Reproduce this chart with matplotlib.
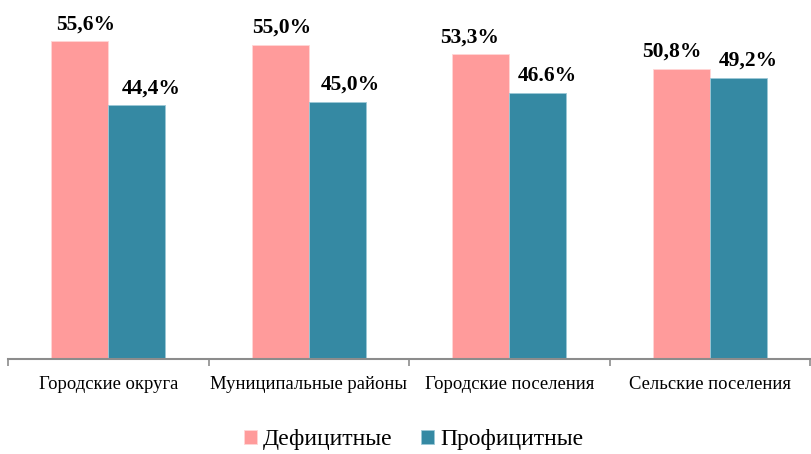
import matplotlib.pyplot as plt
import numpy as np

plt.rcParams['font.family'] = ['Liberation Serif', 'DejaVu Serif']

# данные
categories = ['Городские округа', 'Муниципальные районы', 'Городские поселения', 'Сельские поселения']
deficit = [55.6, 55.0, 53.3, 50.8]
surplus = [44.4, 45.0, 46.6, 49.2]
deficit_labels = ['55,6%', '55,0%', '53,3%', '50,8%']
surplus_labels = ['44,4%', '45,0%', '46.6%', '49,2%']
series_names = ['Дефицитные', 'Профицитные']

PINK = '#FF9B9B'
TEAL = '#3589A3'
BAR_W = 0.285
# сдвиги подписей (в пунктах), как в исходнике
deficit_dx = [4, 1, -8, -7]
surplus_dx = [10, 9, 7, 7]

fig = plt.figure(figsize=(8.11, 4.54), dpi=100)
ax = fig.add_axes([8 / 811, 1 - 359 / 454, 802 / 811, (359 - 16) / 454])

x = np.arange(len(categories))
b1 = ax.bar(x - BAR_W / 2, deficit, BAR_W, color=PINK, edgecolor='#FFD6D6', linewidth=0.6, label=series_names[0])
b2 = ax.bar(x + BAR_W / 2, surplus, BAR_W, color=TEAL, edgecolor='#9CC8D6', linewidth=0.6, label=series_names[1])

for bars, texts, dxs in [(b1, deficit_labels, deficit_dx), (b2, surplus_labels, surplus_dx)]:
    for rect, t, dx in zip(bars, texts, dxs):
        ax.annotate(t, (rect.get_x() + rect.get_width() / 2, rect.get_height()),
                    xytext=(dx, 5), textcoords='offset points', ha='center', va='bottom',
                    fontsize=15.5, fontweight='bold', annotation_clip=False)

ax.set_xlim(-0.5, len(categories) - 0.5)
ax.set_ylim(0, 60)
ax.set_yticks([])
for s in ['top', 'right', 'left']:
    ax.spines[s].set_visible(False)
ax.spines['bottom'].set_color('#8C8C8C')
ax.spines['bottom'].set_linewidth(1.5)

ax.set_xticks(np.arange(len(categories) + 1) - 0.5)
ax.set_xticklabels([])
ax.tick_params(axis='x', which='major', length=5, width=1.2, color='#8C8C8C')
ax.set_xticks(x, minor=True)
ax.set_xticklabels(categories, minor=True, fontsize=13.4)
ax.tick_params(axis='x', which='minor', length=0, pad=12)

fig.legend(loc='center', bbox_to_anchor=(0.51, 0.031), ncol=2, frameon=False,
           fontsize=17, handlelength=0.55, handleheight=0.55, handletextpad=0.25,
           columnspacing=1.2, borderpad=0)

fig.savefig('out.png', dpi=100)
